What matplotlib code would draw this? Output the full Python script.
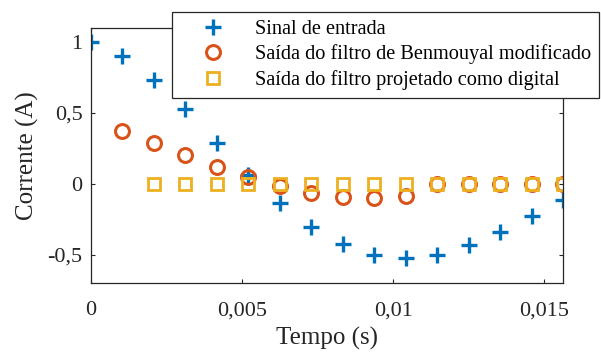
import numpy as np
import matplotlib
matplotlib.use("Agg")
import matplotlib.pyplot as plt

# ---- data ----
Ts = 1.0 / 960.0
n_in = list(range(16))
sinal = [1.0, 0.90, 0.73, 0.525, 0.29, 0.06, -0.133, -0.307, -0.426, -0.50,
         -0.523, -0.50, -0.435, -0.342, -0.23, -0.116]
n_ben = list(range(1, 16))
benmouyal = [0.37, 0.29, 0.20, 0.116, 0.05, -0.015, -0.067, -0.09, -0.10,
             -0.086, 0.0, 0.0, 0.0, 0.0, 0.0]
n_dig = list(range(2, 16))
digital = [0.0] * 14

xticks = [0, 0.005, 0.01, 0.015]
xticklabels = ["0", "0,005", "0,01", "0,015"]
yticks = [-0.5, 0, 0.5, 1]
yticklabels = ["-0,5", "0", "0,5", "1"]
labels = ["Sinal de entrada",
          "Saída do filtro de Benmouyal modificado",
          "Saída do filtro projetado como digital"]

plt.rcParams['font.family'] = ['Liberation Serif', 'DejaVu Serif']

fig = plt.figure(figsize=(6.01, 3.52), dpi=100)
ax = fig.add_axes([91/601, 1 - 283/352, (563 - 91)/601, (283 - 28)/352])

t_in = np.array(n_in) * Ts
t_ben = np.array(n_ben) * Ts
t_dig = np.array(n_dig) * Ts

ax.plot(t_in, sinal, linestyle='none', marker='+', markersize=11,
        markeredgewidth=2.4, color='#0072BD', label=labels[0])
ax.plot(t_ben, benmouyal, linestyle='none', marker='o', markersize=10,
        markeredgewidth=2.2, markerfacecolor='none', markeredgecolor='#D95319',
        label=labels[1])
ax.plot(t_dig, digital, linestyle='none', marker='s', markersize=8.2,
        markeredgewidth=2.0, markerfacecolor='none', markeredgecolor='#EDB120',
        label=labels[2])

ax.set_xlim(0, 15 * Ts)
ax.set_ylim(-0.7, 1.1)
ax.set_xticks(xticks)
ax.set_xticklabels(xticklabels)
ax.set_yticks(yticks)
ax.set_yticklabels(yticklabels)
ax.tick_params(direction='in', length=3, width=0.8, labelsize=16,
               top=True, right=True, colors='#262626')
ax.tick_params(axis='x', pad=13)
ax.tick_params(axis='y', pad=6)
for sp in ax.spines.values():
    sp.set_color('#262626')
    sp.set_linewidth(0.9)

ax.set_xlabel("Tempo (s)", fontsize=18, color='#262626', labelpad=5)
ax.set_ylabel("Corrente (A)", fontsize=18, color='#262626', labelpad=6)

leg = fig.legend(loc='upper left', bbox_to_anchor=(172/601, 1 - 12/352),
                 fontsize=14.6, frameon=True, fancybox=False, borderaxespad=0,
                 handletextpad=0.44, labelspacing=0.26, borderpad=0.4,
                 handlelength=3.25)
leg.get_frame().set_edgecolor('#262626')
leg.get_frame().set_linewidth(0.9)
leg.get_frame().set_alpha(1)

fig.savefig("out.png", dpi=100)
